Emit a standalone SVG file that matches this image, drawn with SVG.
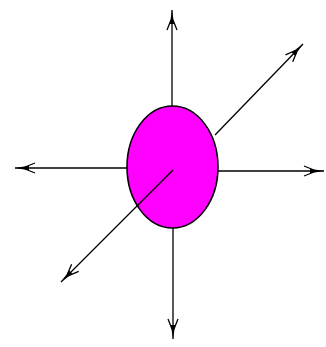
<svg xmlns="http://www.w3.org/2000/svg" width="326" height="347" viewBox="0 0 326 347">
<style>
.c{stroke:#000;stroke-width:1.3;fill:none}
.n{fill:#ff00ff;stroke:#000;stroke-width:1.6}
</style>
<defs>
<marker id="a" markerUnits="userSpaceOnUse" markerWidth="30" markerHeight="16" viewBox="-24 -8 30 16" refX="0" refY="0" orient="auto">
<path d="M0,0 L-14,-2.2 L-14,2.2 Z" fill="#000"/>
<path d="M-10,-1 L-20,-5 M-10,1 L-20,5" stroke="#000" stroke-width="1.3" fill="none"/>
</marker>
</defs>
<rect width="326" height="347" fill="#fff"/>
<g id="node-center">
<ellipse class="n" cx="172.5" cy="167" rx="45.5" ry="61"/>
</g>
<g id="connectors">
<line class="c" x1="172" y1="106" x2="172" y2="10" marker-end="url(#a)"/>
<line class="c" x1="173" y1="228" x2="173" y2="339" marker-end="url(#a)"/>
<line class="c" x1="127" y1="168" x2="15" y2="168" marker-end="url(#a)"/>
<line class="c" x1="218" y1="171" x2="324" y2="171" marker-end="url(#a)"/>
<line class="c" x1="215" y1="135" x2="303" y2="44" marker-end="url(#a)"/>
<line class="c" x1="173" y1="170" x2="61" y2="282" marker-end="url(#a)"/>
</g>
</svg>
